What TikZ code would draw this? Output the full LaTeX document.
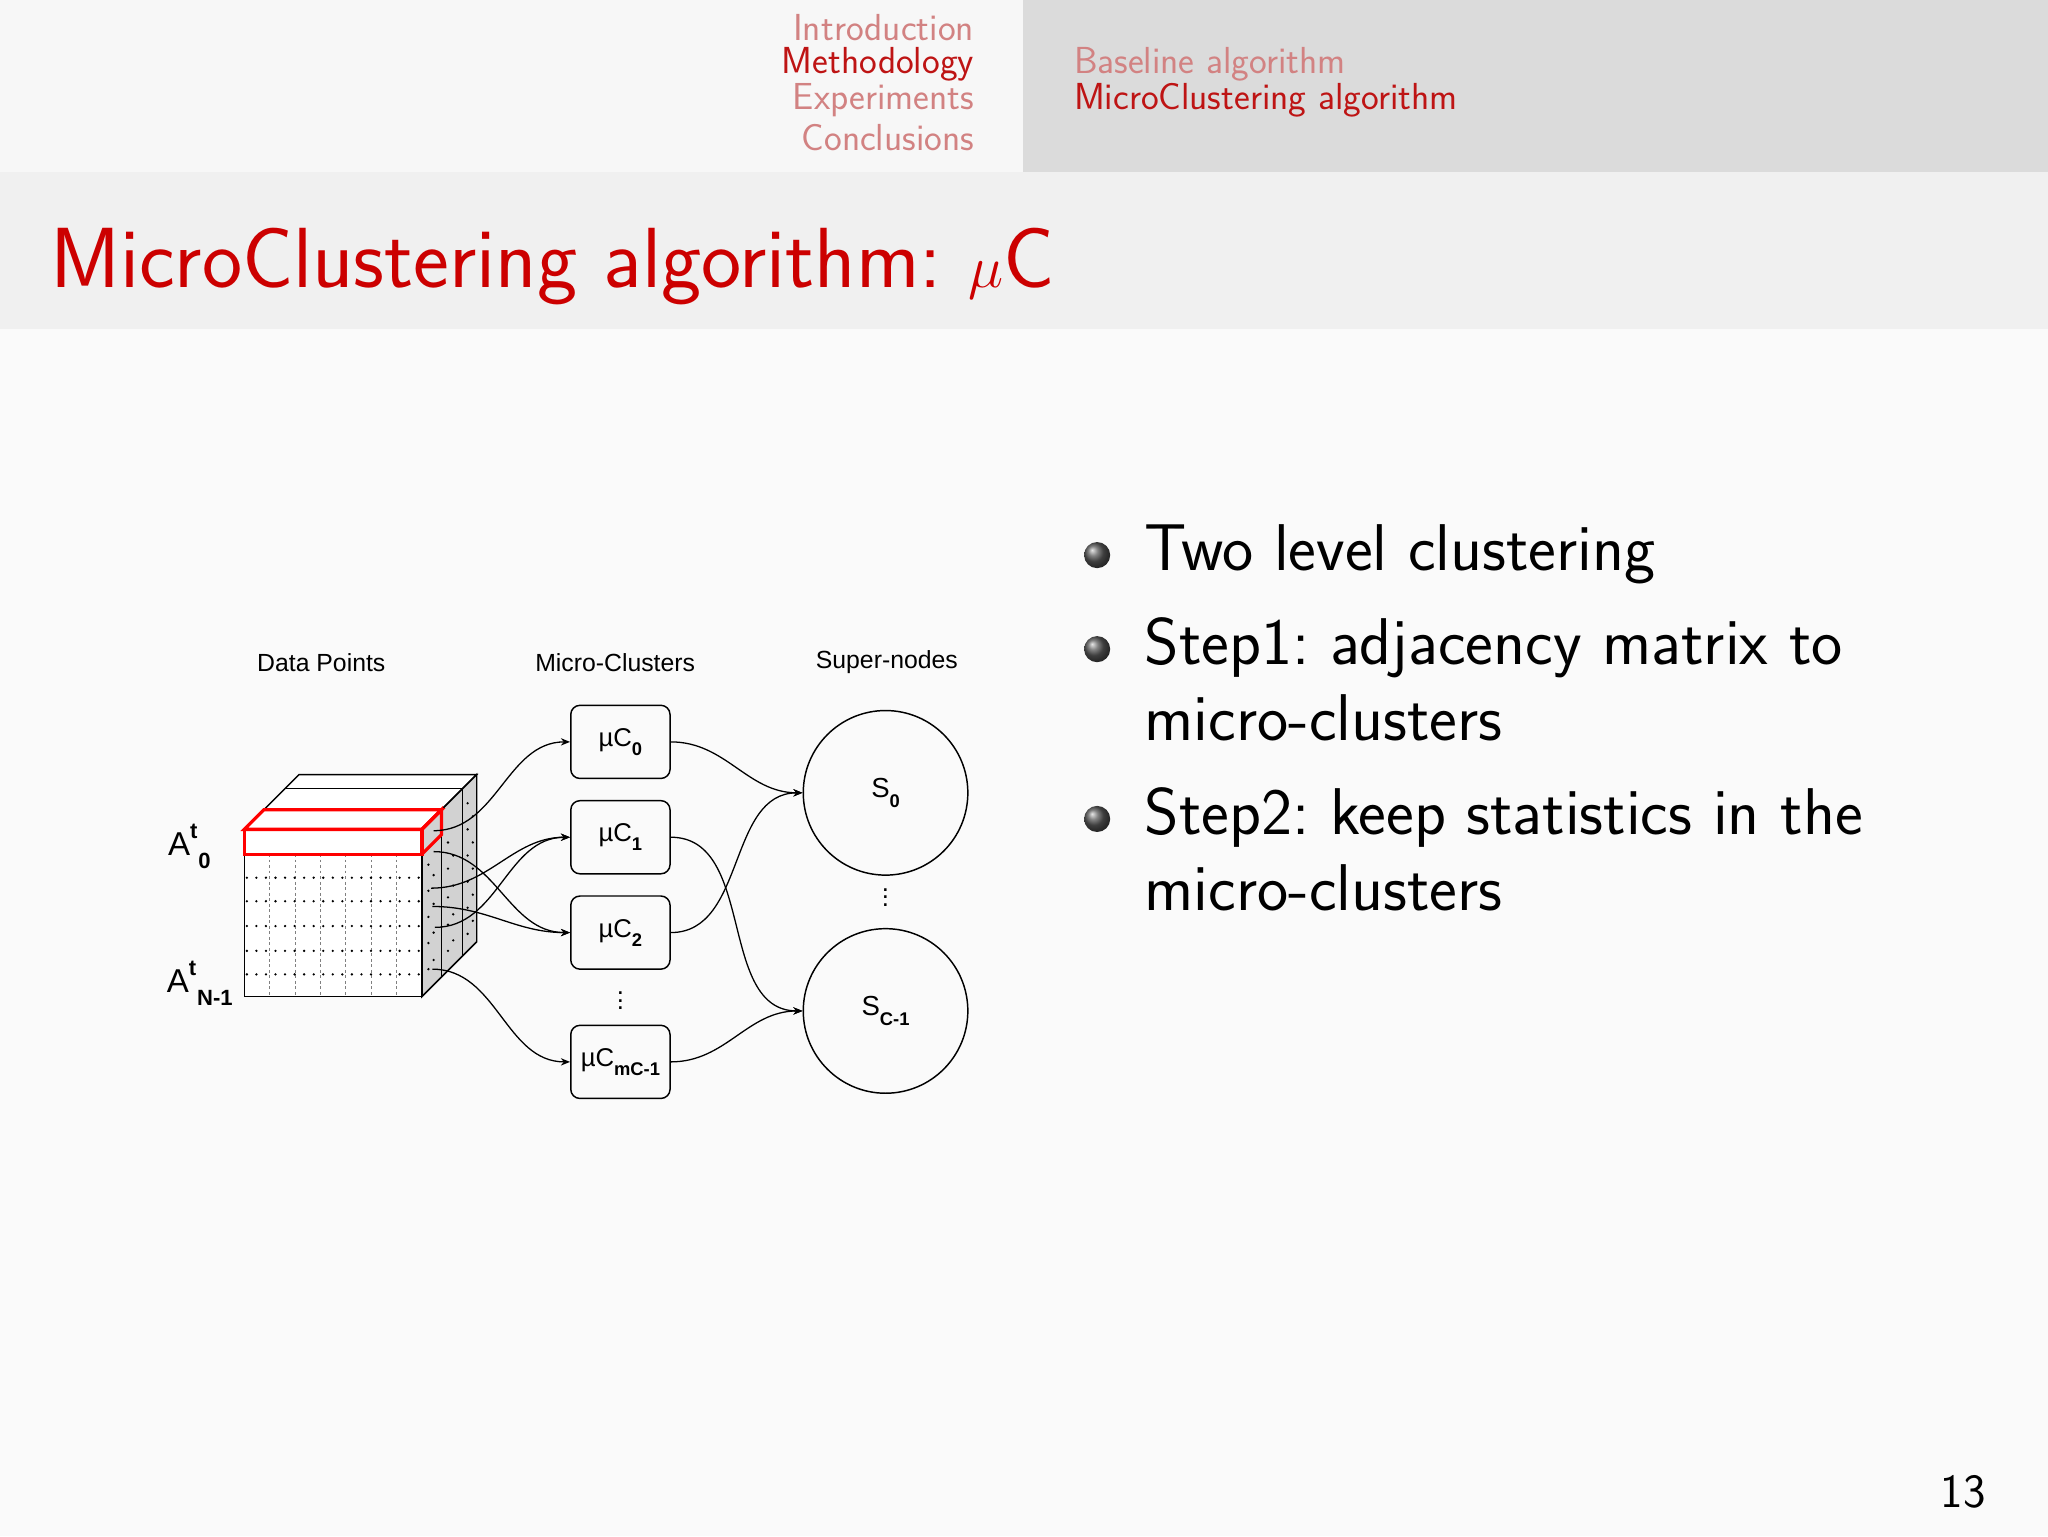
\documentclass[tikz,border=0pt]{standalone}
\usepackage{fontspec}
\usepackage{graphicx}
\newfontfamily\arial{Liberation Sans}
\usetikzlibrary{arrows.meta,shadings}
\definecolor{navred}{RGB}{190,20,20}
\definecolor{navpale}{RGB}{210,130,130}
\definecolor{titred}{RGB}{204,0,0}
\tikzset{
  mcbox/.style={draw,rounded corners=5pt,minimum width=76*0.25mm,minimum height=56*0.25mm,line width=0.8pt,font=\arial\fontsize{14}{16}\selectfont,inner sep=0pt},
  snode/.style={draw,circle,minimum size=126*0.25mm,line width=0.8pt,font=\arial\fontsize{15}{17}\selectfont,inner sep=0pt},
  conn/.style={line width=0.7pt,-{Stealth[length=5pt,width=4pt]}},
  navtxt/.style={font=\sffamily\fontsize{20.5}{22}\selectfont,inner sep=0pt},
  lbl/.style={font=\arial\fontsize{13.5}{15}\selectfont,inner sep=0pt},
  bul/.style={font=\sffamily\fontsize{36}{40}\selectfont,inner sep=0pt,anchor=base west},
}
\newcommand{\mysub}[1]{\raisebox{-0.35em}{\fontsize{10}{10}\selectfont\textbf{#1}}}
\newcommand{\atlab}[1]{A\rlap{\raisebox{0.5em}{\fontsize{12}{12}\selectfont\textbf{t}}}\raisebox{-0.4em}{\hspace{0.25em}\fontsize{12}{12}\selectfont\textbf{#1}}}
\begin{document}
\begin{tikzpicture}[x=0.25mm,y=-0.25mm]
\useasboundingbox (0,0) rectangle (1568,1176);
\fill[white!98!black] (0,0) rectangle (1568,1176);
\fill[gray!6] (0,0) rectangle (783,132);
\fill[gray!28] (783,0) rectangle (1568,132);
\fill[gray!12] (0,132) rectangle (1568,252);
% nav
\node[navtxt,anchor=east,text=navpale] (n1) at (746,21) {Introduction};
\node[navtxt,anchor=east,text=navred] (n2) at (746,49) {Methodology};
\node[navtxt,anchor=east,text=navpale] (n3) at (746,77) {Experiments};
\node[navtxt,anchor=east,text=navpale] (n4) at (746,105) {Conclusions};
\node[navtxt,anchor=west,text=navpale] (n5) at (822,49) {Baseline algorithm};
\node[navtxt,anchor=west,text=navred] (n6) at (822,77) {MicroClustering algorithm};
% title
\node[anchor=base west,inner sep=0pt,text=titred,font=\sffamily\fontsize{46.5}{52}\selectfont] (title) at (38,220) {MicroClustering algorithm:\ \scalebox{1.3}{$\mu$}C};
% bullets
\foreach \y in {423,495,625}{
  \shade[ball color=gray!70!black] (840,\y+2) circle (10);
}
\node[bul] (t1) at (876,437) {Two level clustering};
\node[bul] (t2) at (876,509) {Step1:\ adjacency matrix to};
\node[bul] (t2b) at (876,567) {micro-clusters};
\node[bul] (t3) at (876,639) {Step2:\ keep statistics in the};
\node[bul] (t3b) at (876,697) {micro-clusters};
\node[font=\sffamily\fontsize{26}{30}\selectfont,inner sep=0pt] (pg) at (1503,1142) {13};
% labels
\node[lbl] (l1) at (246,507) {Data Points};
\node[lbl] (l2) at (471,507) {Micro-Clusters};
\node[lbl] (l3) at (679,507) {Super-nodes};
% cube
\draw[line width=0.8pt,fill=white] (187,635) -- (229,593) -- (365,593) -- (323,635) -- cycle;
\draw[line width=0.8pt,fill=gray!35] (323,635) -- (365,593) -- (365,721) -- (323,763) -- cycle;
\draw[line width=0.8pt,fill=white] (187,635) rectangle (323,763);
\draw[line width=0.6pt] (218,604) -- (354,604) -- (354,732);
\draw[line width=0.6pt] (338,620) -- (338,748);
\foreach \k in {1,...,6}{
  \draw[gray,line width=0.4pt,dash pattern=on 1.5pt off 1.5pt] (187+19.4*\k,654) -- (187+19.4*\k,763);
}
\foreach \y in {672,690,709,728,746}{
  \draw[line width=1.4pt,line cap=round,dash pattern=on 0pt off 5.2pt] (189,\y) -- (323,\y);
}
\foreach \px/\py in {328/662, 328/682, 328/702, 328/722, 328/742, 332/670, 332/692, 332/714, 332/735, 343/645, 343/665, 343/687, 343/708, 343/728, 347/655, 347/678, 347/700, 347/720, 358/615, 358/635, 358/655, 358/675, 358/695, 358/715, 362/625, 362/645, 362/665, 362/685, 362/705}{
  \fill (\px,\py) circle (1);
}
% red slab
\draw[red,line width=1.8pt,fill=white] (187,635) -- (202,620) -- (338,620) -- (323,635) -- cycle;
\draw[red,line width=1.8pt] (323,635) -- (338,620) -- (338,639) -- (323,654);
\draw[red,line width=1.8pt] (187,635) rectangle (323,654);
% row labels
\node[font=\arial\fontsize{18}{20}\selectfont,inner sep=0pt] (a0) at (145,648) {\atlab{0}};
\node[font=\arial\fontsize{18}{20}\selectfont,inner sep=0pt] (an) at (153,753) {\atlab{N-1}};
% boxes
\node[mcbox] (m0) at (475,568) {µC\mysub{0}};
\node[mcbox] (m1) at (475,641) {µC\mysub{1}};
\node[mcbox] (m2) at (475,714) {µC\mysub{2}};
\node[mcbox] (m3) at (475,813) {µC\mysub{mC-1}};
\node[lbl,font=\arial\fontsize{14}{14}\selectfont] (vd1) at (475,762) {$\vdots$};
\node[snode] (s0) at (678,607) {S\mysub{0}};
\node[snode] (s1) at (678,774) {S\mysub{C-1}};
\node[lbl,font=\arial\fontsize{14}{14}\selectfont] (vd2) at (678,683) {$\vdots$};
% sources
\coordinate (p0) at (332,636);
\coordinate (p1) at (332,652);
\coordinate (p2) at (330,680);
\coordinate (p3) at (331,694);
\coordinate (p4) at (333,710);
\coordinate (p5) at (331,742);
\draw[conn] (p0) to[out=0,in=180] (m0.west);
\draw[conn] (p1) to[out=0,in=180] (m2.west);
\draw[conn] (p2) to[out=0,in=180] (m1.west);
\draw[conn] (p3) to[out=0,in=180] (m2.west);
\draw[conn] (p4) to[out=0,in=180] (m1.west);
\draw[conn] (p5) to[out=0,in=180] (m3.west);
\draw[conn] (m0.east) to[out=0,in=180] (s0.west);
\draw[conn] (m2.east) to[out=0,in=180] (s0.west);
\draw[conn] (m1.east) to[out=0,in=180] (s1.west);
\draw[conn] (m3.east) to[out=0,in=180] (s1.west);
\end{tikzpicture}
\end{document}
